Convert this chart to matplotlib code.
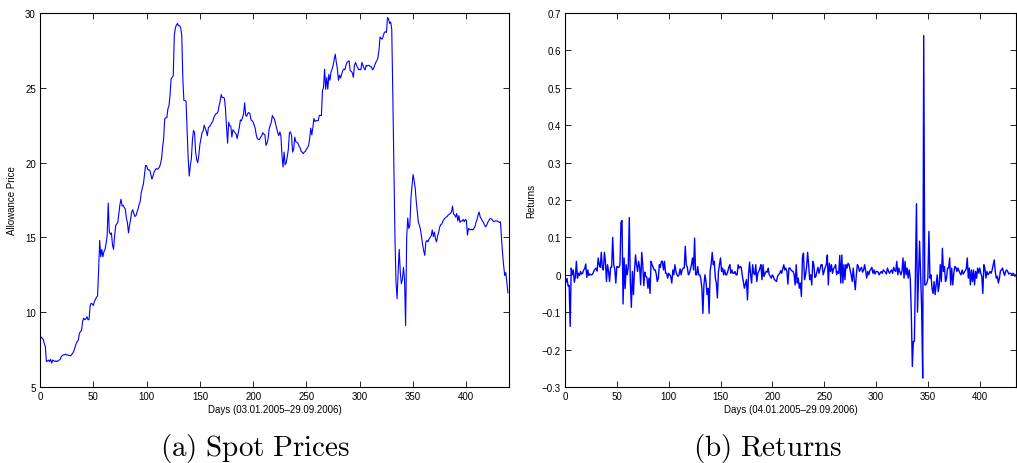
import matplotlib
matplotlib.use("Agg")
import matplotlib.pyplot as plt
import numpy as np

# Spot prices (daily)
price = [
    8.4, 8.35, 8.25, 8.2, 7.9, 7.7, 6.7, 6.75, 6.8, 6.7,
    6.85, 6.6, 6.8, 6.75, 6.7, 6.75, 6.7, 6.75, 6.8, 6.85,
    7.05, 7.1, 7.15, 7.15, 7.2, 7.15, 7.15, 7.1, 7.1, 7.1,
    7.2, 7.3, 7.45, 7.7, 7.9, 8.05, 8.15, 8.6, 8.7, 8.8,
    9.4, 9.6, 9.5, 9.55, 9.7, 9.5, 9.5, 10.4, 10.6, 10.55,
    10.45, 10.7, 10.85, 11.0, 11.1, 12.8, 14.8, 13.7, 14.2, 13.7,
    14.05, 14.2, 14.6, 15.1, 17.3, 15.4, 15.2, 15.3, 14.5, 14.2,
    15.1, 15.8, 15.9, 16.0, 16.6, 17.2, 17.55, 17.1, 17.15, 17.0,
    16.9, 16.3, 16.0, 15.3, 15.8, 16.2, 16.7, 16.85, 16.6, 16.4,
    16.45, 16.7, 16.9, 17.2, 17.4, 18.0, 18.3, 18.55, 19.2, 19.8,
    19.8, 19.55, 19.5, 19.5, 19.2, 18.9, 19.1, 19.35, 19.5, 19.6,
    19.55, 19.6, 19.7, 19.9, 20.25, 21.0, 21.6, 22.9, 23.0, 23.0,
    23.6, 23.8, 24.5, 25.6, 25.7, 25.8, 28.5, 29.0, 29.2, 29.3,
    29.15, 29.15, 29.0, 28.5, 25.6, 24.15, 24.15, 24.1, 22.25, 20.3,
    19.1, 19.8, 20.25, 21.5, 22.15, 22.0, 20.7, 20.2, 20.0, 20.5,
    21.2, 21.6, 22.0, 22.1, 22.5, 22.3, 22.1, 21.8, 22.35, 22.4,
    22.5, 22.65, 22.75, 23.0, 23.15, 23.25, 23.3, 23.4, 23.8, 24.1,
    24.55, 24.35, 24.35, 24.3, 23.6, 22.35, 21.3, 22.7, 22.45, 22.45,
    21.7, 22.2, 22.1, 22.0, 21.9, 21.6, 22.0, 22.35, 22.85, 22.8,
    23.0, 23.25, 24.0, 23.15, 23.1, 23.3, 23.35, 23.25, 22.85, 22.8,
    22.7, 22.5, 22.25, 21.8, 21.6, 21.55, 21.55, 21.7, 21.8, 22.0,
    21.9, 21.85, 21.15, 21.3, 21.6, 22.25, 22.5, 22.7, 23.15, 23.0,
    22.9, 22.6, 22.3, 22.0, 21.8, 22.05, 21.8, 20.5, 19.7, 20.7,
    19.85, 20.0, 20.4, 20.9, 22.0, 22.05, 21.8, 20.7, 20.9, 21.7,
    21.4, 21.35, 21.3, 21.1, 21.0, 20.75, 20.7, 20.6, 20.7, 20.75,
    20.9, 21.0, 21.15, 21.6, 22.3, 21.85, 22.35, 22.95, 22.75, 22.8,
    22.8, 22.8, 23.15, 23.15, 23.15, 24.8, 25.05, 26.25, 24.9, 25.7,
    24.9, 25.9, 25.5, 26.05, 26.25, 26.5, 26.9, 27.25, 26.7, 26.25,
    25.5, 25.85, 25.65, 25.9, 26.15, 26.25, 26.2, 26.5, 26.7, 26.75,
    26.8, 26.15, 26.1, 26.0, 25.7, 26.5, 26.7, 26.5, 26.35, 26.2,
    26.25, 26.2, 26.7, 26.5, 26.3, 26.2, 26.5, 26.45, 26.5, 26.5,
    26.4, 26.4, 26.2, 26.3, 26.5, 26.7, 26.8, 27.0, 27.5, 28.4,
    28.3, 28.25, 28.45, 28.7, 28.75, 28.7, 29.7, 29.6, 29.3, 29.4,
    28.9, 24.5, 19.5, 15.0, 12.0, 10.9, 12.7, 14.2, 12.7, 11.9,
    12.2, 13.0, 12.2, 9.1, 15.0, 16.3, 15.6, 15.8, 17.6, 18.45,
    19.2, 18.8, 18.3, 17.4, 16.7, 16.0, 15.8, 15.5, 15.0, 14.5,
    14.1, 13.8, 14.7, 14.8, 14.7, 14.9, 15.0, 15.1, 15.5, 15.05,
    15.35, 14.9, 14.7, 15.1, 15.35, 15.7, 15.85, 15.9, 16.1, 16.2,
    16.3, 16.35, 16.4, 16.5, 16.55, 16.6, 16.7, 17.1, 16.55, 16.5,
    16.35, 16.6, 16.1, 16.45, 16.0, 16.1, 16.1, 16.2, 16.05, 16.2,
    16.15, 15.15, 15.6, 15.55, 15.5, 15.55, 15.5, 15.6, 15.7, 16.0,
    16.2, 16.5, 16.7, 16.35, 16.25, 16.1, 16.0, 15.85, 15.7, 15.8,
    16.0, 16.1, 16.25, 16.25, 16.2, 16.1, 16.05, 16.1, 16.1, 16.1,
    16.05, 16.0, 16.05, 14.9, 13.9, 13.1, 12.45, 12.65, 12.0, 11.3,
]

# Returns (daily)
returns = [
    0.0, -0.02, -0.01, -0.03, -0.028, -0.138, 0.018, 0.0, 0.013, -0.02,
    -0.005, 0.036, -0.009, 0.004, -0.002, 0.009, 0.002, 0.004, 0.013, 0.016,
    0.029, -0.007, 0.013, -0.002, 0.002, 0.0, 0.0, 0.004, 0.011, 0.015,
    0.018, 0.01, 0.045, 0.027, 0.02, 0.06, 0.018, 0.013, 0.06, 0.036,
    -0.018, 0.027, 0.009, -0.018, 0.02, 0.02, 0.10, 0.027, 0.016, -0.022,
    0.022, 0.02, 0.02, 0.027, 0.14, 0.145, -0.078, 0.045, -0.037, 0.027,
    0.0, 0.02, 0.153, -0.018, -0.087, 0.009, -0.053, 0.01, 0.053, 0.027,
    0.009, 0.036, 0.02, -0.027, 0.06, 0.027, -0.029, 0.007, -0.004, -0.007,
    -0.036, -0.009, -0.05, 0.036, 0.027, 0.02, 0.013, 0.013, 0.002, -0.018,
    -0.01, 0.027, 0.02, 0.036, 0.036, 0.013, 0.036, 0.004, 0.004, -0.009,
    0.004, 0.0, -0.005, -0.022, 0.013, 0.0, 0.027, 0.009, 0.0, -0.004,
    0.0, 0.016, 0.0, 0.013, 0.018, 0.018, 0.076, 0.027, 0.02, 0.0,
    0.004, 0.015, 0.027, 0.045, 0.013, 0.098, 0.0, 0.0, 0.022, 0.0,
    0.0, -0.01, -0.036, -0.103, -0.027, 0.0, -0.018, -0.053, -0.036, -0.103,
    0.01, 0.03, 0.06, 0.027, 0.036, -0.009, -0.022, -0.062, 0.009, 0.027,
    0.045, 0.009, 0.018, 0.0, 0.013, 0.0, 0.0, 0.009, 0.02, 0.027,
    0.004, 0.013, 0.004, 0.004, 0.009, 0.0, 0.0, 0.027, 0.018, 0.022,
    0.02, -0.002, -0.018, -0.036, -0.025, -0.013, -0.067, 0.0, 0.034, 0.0,
    -0.022, 0.027, 0.004, 0.0, 0.027, -0.018, 0.004, 0.01, 0.018, 0.027,
    -0.013, 0.027, -0.004, 0.004, 0.009, 0.007, 0.018, 0.0, -0.004, -0.009,
    0.0, -0.005, -0.013, -0.015, -0.018, -0.004, 0.0, 0.004, 0.011, 0.004,
    0.015, 0.027, 0.013, 0.018, 0.01, -0.025, 0.018, 0.018, 0.013, 0.01,
    0.009, 0.0, -0.027, 0.027, -0.022, -0.009, -0.036, -0.022, -0.058, 0.045,
    0.058, -0.013, 0.0, 0.02, 0.06, 0.027, -0.013, 0.0, -0.027, 0.036,
    0.027, -0.007, -0.004, 0.009, 0.02, 0.004, 0.015, 0.027, 0.027, 0.0,
    0.01, 0.02, 0.027, 0.053, -0.027, 0.031, 0.009, 0.027, 0.004, 0.016,
    0.02, 0.027, 0.0, 0.009, 0.004, 0.052, -0.022, 0.053, -0.022, 0.027,
    -0.013, 0.027, 0.018, 0.031, 0.027, 0.013, 0.0, -0.018, 0.018, -0.013,
    -0.04, 0.0, 0.027, 0.022, 0.009, 0.015, 0.02, 0.007, 0.013, 0.027,
    0.01, -0.009, 0.009, 0.0, 0.011, 0.015, 0.02, 0.004, 0.013, 0.002,
    0.009, 0.009, 0.007, 0.0, 0.005, 0.009, 0.004, 0.013, 0.01, 0.007,
    0.002, 0.018, 0.01, 0.004, 0.009, 0.013, 0.004, 0.02, 0.012, 0.009,
    0.036, 0.0, 0.018, 0.008, 0.0, 0.009, 0.045, -0.009, 0.036, 0.0,
    0.018, -0.009, 0.013, -0.01, -0.1, -0.245, -0.178, -0.178, 0.0, 0.19,
    -0.1, 0.0, 0.09, 0.0, -0.09, -0.276, 0.64, -0.027, -0.027, -0.022,
    -0.009, 0.116, -0.009, 0.0, -0.036, -0.05, -0.018, -0.053, -0.027, 0.0,
    -0.045, -0.027, 0.027, -0.018, 0.071, 0.009, 0.022, -0.018, -0.009, 0.018,
    0.018, 0.045, -0.027, 0.018, -0.027, 0.004, 0.022, 0.02, 0.009, 0.018,
    0.011, 0.004, 0.0, 0.013, 0.002, 0.007, 0.011, 0.016, 0.045, -0.009,
    0.018, -0.027, 0.013, -0.018, 0.013, -0.027, 0.009, -0.009, 0.018, 0.004,
    0.018, 0.004, -0.004, -0.05, 0.027, 0.018, -0.009, 0.009, 0.0, 0.004,
    0.009, 0.004, 0.013, 0.027, 0.04, 0.009, -0.009, -0.004, -0.022, -0.009,
    0.011, 0.013, 0.018, 0.007, -0.002, 0.009, 0.013, 0.009, 0.002, 0.004,
    0.004, 0.0, 0.004, 0.002, -0.004, 0.0,
]

price_yticks = [5, 10, 15, 20, 25, 30]
ret_yticks = [-0.3, -0.2, -0.1, 0, 0.1, 0.2, 0.3, 0.4, 0.5, 0.6, 0.7]
day_ticks = [0, 50, 100, 150, 200, 250, 300, 350, 400]

plt.rcParams['font.family'] = ['Liberation Sans', 'DejaVu Sans']
plt.rcParams['mathtext.fontset'] = 'cm'

W, H = 1017, 464
fig = plt.figure(figsize=(W / 100, H / 100), dpi=100)

def style(ax):
    ax.tick_params(direction='in', top=True, right=True, length=4,
                   width=0.6, labelsize=7, pad=3)
    for s in ax.spines.values():
        s.set_linewidth(0.8)

# (a) spot prices
ax1 = fig.add_axes([40 / W, 1 - 388 / H, 469 / W, 374 / H])
ax1.plot(np.arange(len(price)), price, color='#0000ff', linewidth=0.8)
ax1.set_xlim(0, 440)
ax1.set_ylim(5, 30)
ax1.set_xticks(day_ticks)
ax1.set_yticks(price_yticks)
ax1.set_xlabel('Days (03.01.2005\u201329.09.2006)', fontsize=7, labelpad=2)
ax1.set_ylabel('Allowance Price', fontsize=7, labelpad=6)
style(ax1)

# (b) returns
ax2 = fig.add_axes([565 / W, 1 - 388 / H, 451 / W, 374 / H])
ax2.plot(np.arange(len(returns)), returns, color='#0000ff', linewidth=1.0)
ax2.set_xlim(0, 435)
ax2.set_ylim(-0.3, 0.7)
ax2.set_xticks(day_ticks)
ax2.set_yticks(ret_yticks)
ax2.set_yticklabels(['\u22120.3', '\u22120.2', '\u22120.1', '0', '0.1', '0.2',
                     '0.3', '0.4', '0.5', '0.6', '0.7'])
ax2.set_xlabel('Days (04.01.2005\u201329.09.2006)', fontsize=7, labelpad=2)
ax2.set_ylabel('Returns', fontsize=7, labelpad=4)
style(ax2)

# sub-figure captions
fig.text(255 / W, 1 - 449 / H, r'$\mathrm{(a)\ Spot\ Prices}$',
         ha='center', va='center', fontsize=21)
fig.text(768 / W, 1 - 449 / H, r'$\mathrm{(b)\ Returns}$',
         ha='center', va='center', fontsize=21)

fig.savefig('out.png', dpi=100)
